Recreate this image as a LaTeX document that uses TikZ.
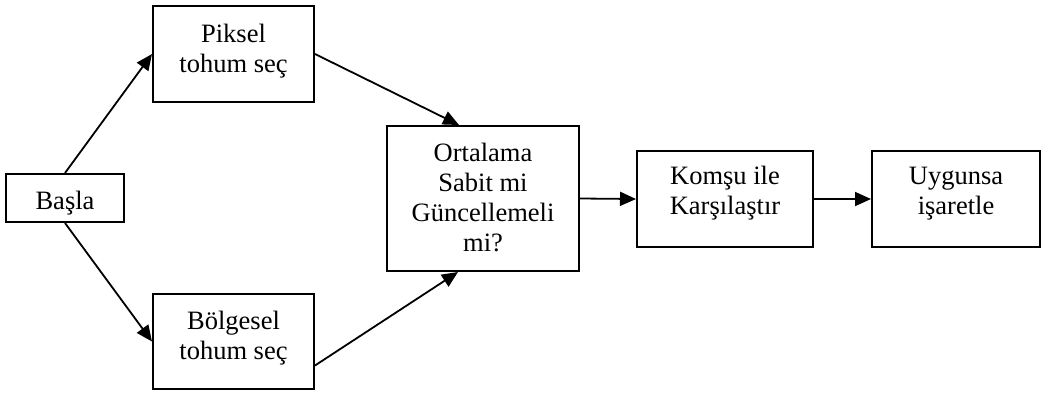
\documentclass[tikz,border=0pt]{standalone}
\usepackage{fontspec}
\setmainfont{Liberation Serif}
\usetikzlibrary{arrows.meta,calc}
\tikzset{
  box/.style={draw=black, line width=2pt, rectangle, inner sep=0pt},
  lbl/.style={anchor=base, inner sep=0pt, align=center, font=\fontsize{26.5}{30}\selectfont},
  arr/.style={line width=1.8pt, -{Triangle[length=16pt,width=14pt]}}
}
\begin{document}
\begin{tikzpicture}[x=1pt,y=-1pt]
\useasboundingbox[fill=white] (0,0) rectangle (1042,394);
\node[box, minimum width=118pt, minimum height=48pt] (basla) at (65,198) {};
\node[box, minimum width=161pt, minimum height=96pt] (piksel) at (233.5,54) {};
\node[box, minimum width=161pt, minimum height=95pt] (bolge) at (233.5,341.5) {};
\node[box, minimum width=192pt, minimum height=145pt] (ortalama) at (483,198.5) {};
\node[box, minimum width=176pt, minimum height=96pt] (komsu) at (725,199) {};
\node[box, minimum width=168pt, minimum height=96pt] (uygun) at (956,199) {};

% anchor=base is the baseline of the last line
\node[lbl] (tbasla) at ($(basla.north)+(0,36)$) {Başla};
\node[lbl] (tpiksel) at ($(piksel.north)+(0,67)$) {Piksel\\tohum seç};
\node[lbl] (tbolge) at ($(bolge.north)+(0,66)$) {Bölgesel\\tohum seç};
\node[lbl] (tortalama) at ($(ortalama.north)+(0,126)$) {Ortalama\\Sabit mi\\Güncellemeli\\mi?};
\node[lbl] (tkomsu) at ($(komsu.north)+(0,64)$) {Komşu ile\\Karşılaştır};
\node[lbl] (tuygun) at ($(uygun.north)+(0,64)$) {Uygunsa\\işaretle};

\coordinate (otop) at ($(ortalama.north)+(-24,0)$);
\coordinate (obot) at ($(ortalama.south)+(-25,0)$);
\coordinate (bout) at ($(bolge.east)+(0,24)$);

\draw[arr] (basla.north) -- (piksel.west);
\draw[arr] (basla.south) -- (bolge.west);
\draw[arr] (piksel.east) -- (otop);
\draw[arr] (bout) -- (obot);
\draw[arr] (ortalama.east) -- (komsu.west);
\draw[arr] (komsu.east) -- (uygun.west);
\end{tikzpicture}
\end{document}
